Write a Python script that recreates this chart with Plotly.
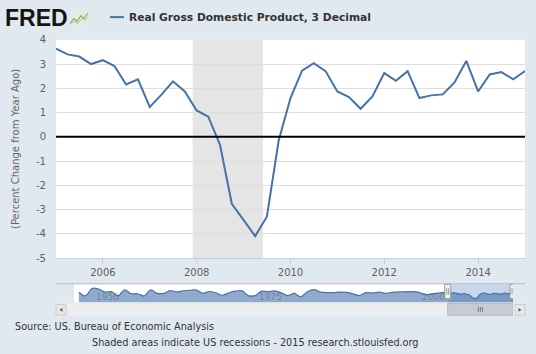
import pandas as pd
import plotly.graph_objects as go

W, H = 536, 354

# ---------------- data ----------------
quarter_dates = pd.date_range("2005-01-01", "2015-01-01", freq="QS").strftime("%Y-%m-%d").tolist()
gdp_pct_change = [3.64, 3.40, 3.31, 3.00,
                  3.16, 2.92, 2.16, 2.37,
                  1.23, 1.73, 2.29, 1.87,
                  1.09, 0.83, -0.33, -2.76,
                  -3.43, -4.09, -3.29, -0.15,
                  1.60, 2.73, 3.04, 2.71,
                  1.87, 1.64, 1.16, 1.67,
                  2.63, 2.31, 2.71, 1.60,
                  1.71, 1.75, 2.24, 3.13,
                  1.87, 2.57, 2.67, 2.37,
                  2.71]

# navigator history (annual, 1948-2004) + quarterly detail
nav_years = list(range(1948, 2005))
nav_annual = [4.1, -0.6, 8.7, 8.0, 4.1, 4.7, -0.6, 7.1, 2.1, 2.1,
              -0.7, 6.9, 2.6, 2.6, 6.1, 4.4, 5.8, 6.5, 6.6, 2.7,
              4.9, 3.1, 0.2, 3.3, 5.3, 5.6, -0.5, -0.2, 5.4, 4.6,
              5.6, 3.2, -0.3, 2.5, -1.8, 4.6, 7.2, 4.2, 3.5, 3.5,
              4.2, 3.7, 1.9, -0.1, 3.5, 2.8, 4.0, 2.7, 3.8, 4.4,
              4.5, 4.8, 4.1, 1.0, 1.8, 2.8, 3.8]

recession_start, recession_end = "2007-12-01", "2009-06-01"

y_tick_vals = [4, 3, 2, 1, 0, -1, -2, -3, -4, -5]
y_tick_text = ["4", "3", "2", "1", "0", "-1", "-2", "-3", "-4", "-5"]
x_tick_vals = ["2006-01-01", "2008-01-01", "2010-01-01", "2012-01-01", "2014-01-01"]
x_tick_text = ["2006", "2008", "2010", "2012", "2014"]
nav_label_years = ["1950", "1975", "2000"]

series_name = "Real Gross Domestic Product, 3 Decimal"

# ---------------- helpers ----------------
def px(x):
    return x / W

def py(y):
    return 1 - y / H

BG = "#e1e9f0"
LINE = "#4572a7"
FONT = "DejaVu Sans"
NAV_MIN, NAV_MAX = -9, 14

nav_x = [f"{y}-07-01" for y in nav_years] + quarter_dates
nav_y = nav_annual + gdp_pct_change

fig = go.Figure()

# main series
fig.add_trace(go.Scatter(x=quarter_dates, y=gdp_pct_change, mode="lines",
                         line=dict(color=LINE, width=2), name=series_name,
                         xaxis="x", yaxis="y", hoverinfo="x+y"))

# navigator fill + line
fig.add_trace(go.Scatter(x=nav_x + [nav_x[-1], nav_x[0]],
                         y=nav_y + [NAV_MIN, NAV_MIN],
                         mode="lines", fill="toself",
                         fillcolor="rgba(69,114,167,0.6)",
                         line=dict(width=0), xaxis="x2", yaxis="y2",
                         hoverinfo="skip"))
fig.add_trace(go.Scatter(x=nav_x, y=nav_y, mode="lines",
                         line=dict(color=LINE, width=1.2, shape="spline"),
                         xaxis="x2", yaxis="y2", hoverinfo="skip"))

shapes = []
# recession shading
shapes.append(dict(type="rect", xref="x", yref="y domain", x0=recession_start, x1=recession_end,
                   y0=0, y1=1, fillcolor="#e5e5e5", line=dict(width=0), layer="below"))
# zero line
shapes.append(dict(type="line", xref="x domain", yref="y", x0=0, x1=1, y0=0, y1=0,
                   line=dict(color="#000000", width=2)))

# header icon
shapes.append(dict(type="rect", xref="paper", yref="paper", x0=px(69), x1=px(89), y0=py(20), y1=py(5),
                   fillcolor="#e6eae2", line=dict(width=0)))
def path(pts):
    return "M " + " L ".join(f"{px(a)},{py(b)}" for a, b in pts)
shapes.append(dict(type="path", xref="paper", yref="paper",
                   path=path([(70, 18), (74, 13), (77, 16), (81, 10), (84, 13), (88, 7)]),
                   line=dict(color="#8fb05a", width=1.2)))
shapes.append(dict(type="path", xref="paper", yref="paper",
                   path=path([(70, 19), (74, 16), (78, 18), (82, 13), (85, 15), (88, 11)]),
                   line=dict(color="#b7c99a", width=1)))
# legend swatch
shapes.append(dict(type="line", xref="paper", yref="paper", x0=px(110), x1=px(124), y0=py(11.5), y1=py(11.5),
                   line=dict(color=LINE, width=2)))

# navigator: selected range highlight
shapes.append(dict(type="rect", xref="x2", yref="paper", x0=quarter_dates[0], x1=quarter_dates[-1],
                   y0=py(307), y1=py(288), fillcolor="#c6d6ec", line=dict(width=0), layer="below"))
# navigator top border
shapes.append(dict(type="line", xref="paper", yref="paper", x0=px(56), x1=px(525), y0=py(287.5), y1=py(287.5),
                   line=dict(color="#b3bcc6", width=1)))
# scrollbar track
shapes.append(dict(type="rect", xref="paper", yref="paper", x0=px(56), x1=px(525), y0=py(320), y1=py(308),
                   fillcolor="#eeeeee", line=dict(width=0)))
# scrollbar buttons
for x0, x1 in [(56, 66), (515, 525)]:
    shapes.append(dict(type="rect", xref="paper", yref="paper", x0=px(x0), x1=px(x1), y0=py(320), y1=py(309),
                       fillcolor="#e8e8e8", line=dict(color="#cccccc", width=1)))
shapes.append(dict(type="path", xref="paper", yref="paper",
                   path=f"M {px(62.5)},{py(312.5)} L {px(59.5)},{py(314.5)} L {px(62.5)},{py(316.5)} Z",
                   fillcolor="#555555", line=dict(width=0)))
shapes.append(dict(type="path", xref="paper", yref="paper",
                   path=f"M {px(518.5)},{py(312.5)} L {px(521.5)},{py(314.5)} L {px(518.5)},{py(316.5)} Z",
                   fillcolor="#555555", line=dict(width=0)))
# scrollbar thumb
shapes.append(dict(type="rect", xref="x2", yref="paper", x0=quarter_dates[0], x1=quarter_dates[-1],
                   y0=py(320), y1=py(308), fillcolor="#c8ccd2", line=dict(color="#b4b8be", width=1)))
for dx in (-2, 0, 2):
    shapes.append(dict(type="line", xref="x2", yref="paper", xsizemode="pixel",
                       xanchor="2010-01-01", x0=dx, x1=dx, y0=py(316.5), y1=py(311.5),
                       line=dict(color="#777777", width=1)))
# navigator handles
for d in (quarter_dates[0], quarter_dates[-1]):
    shapes.append(dict(type="rect", xref="x2", yref="paper", xsizemode="pixel", xanchor=d,
                       x0=-3, x1=3, y0=py(303), y1=py(288),
                       fillcolor="#f2f2f2", line=dict(color="#999999", width=1)))
    for dx in (-1, 1):
        shapes.append(dict(type="line", xref="x2", yref="paper", xsizemode="pixel", xanchor=d,
                           x0=dx, x1=dx, y0=py(299), y1=py(292),
                           line=dict(color="#999999", width=1)))

annotations = [
    dict(text="<b>FRED</b>", x=px(3), y=py(12.5), xref="paper", yref="paper", xanchor="left", yanchor="middle",
         showarrow=False, font=dict(family="Liberation Sans", size=23, color="#151515")),
    dict(text="<b>" + series_name + "</b>", x=px(127), y=py(11.5), xref="paper", yref="paper",
         xanchor="left", yanchor="middle", showarrow=False, font=dict(family=FONT, size=10.7, color="#333333")),
    dict(text="(Percent Change from Year Ago)", x=px(16), y=py(148), xref="paper", yref="paper",
         xanchor="center", yanchor="middle", textangle=-90, showarrow=False,
         font=dict(family=FONT, size=10, color="#666666")),
    dict(text="Source: US. Bureau of Economic Analysis", x=px(13), y=py(331.5), xref="paper", yref="paper",
         xanchor="left", yanchor="middle", showarrow=False, font=dict(family=FONT, size=9.7, color="#333333")),
    dict(text="Shaded areas indicate US recessions - 2015 research.stlouisfed.org", x=px(255), y=py(348),
         xref="paper", yref="paper", xanchor="center", yanchor="middle", showarrow=False,
         font=dict(family=FONT, size=9.7, color="#333333")),
]
for yr in nav_label_years:
    annotations.append(dict(text=yr, x=f"{yr}-01-01", y=py(301), xref="x2", yref="paper", xanchor="left",
                            yanchor="middle", xshift=5, showarrow=False,
                            font=dict(family=FONT, size=9, color="rgba(70,80,100,0.45)")))

fig.update_layout(
    width=W, height=H, margin=dict(l=0, r=0, t=0, b=0),
    paper_bgcolor=BG, plot_bgcolor="#ffffff", showlegend=False,
    font=dict(family=FONT, size=10, color="#606060"),
    xaxis=dict(domain=[px(56), px(525)], range=["2005-01-01", "2015-01-01"], type="date",
               tickvals=x_tick_vals, ticktext=x_tick_text, ticks="outside", ticklen=5,
               tickcolor="#c0d0e0", showline=True, linecolor="#c0d0e0", showgrid=False,
               zeroline=False, tickfont=dict(family=FONT, size=10, color="#606060"), anchor="y"),
    yaxis=dict(domain=[py(261), py(35)], range=[-5, 4], tickvals=y_tick_vals, ticktext=y_tick_text,
               showgrid=True, gridcolor="#dedede", gridwidth=1, zeroline=False, showline=False,
               ticks="", ticklabelstandoff=9, tickfont=dict(family=FONT, size=10, color="#606060"),
               anchor="x"),
    xaxis2=dict(domain=[px(74), px(513)], range=["1947-10-01", "2015-01-01"], type="date",
                visible=False, anchor="y2"),
    yaxis2=dict(domain=[py(307), py(288)], range=[NAV_MIN, NAV_MAX], visible=False, anchor="x2"),
    shapes=shapes, annotations=annotations,
)

fig.write_html("out.html")
